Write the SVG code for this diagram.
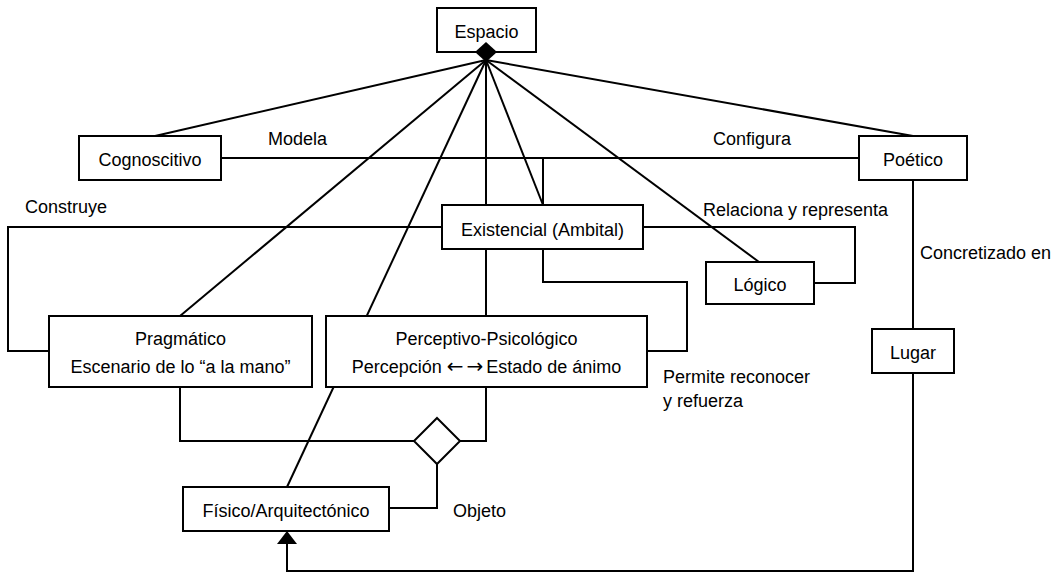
<svg xmlns="http://www.w3.org/2000/svg" width="1061" height="572" viewBox="0 0 1061 572">
  <style>
    .box { fill: #fff; stroke: #000; stroke-width: 2; }
    .ln { fill: none; stroke: #000; stroke-width: 2; }
    text { font-family: "Liberation Sans", Arial, sans-serif; font-size: 18px; fill: #000; }
    .c { text-anchor: middle; }
    .arr { font-family: "DejaVu Sans", sans-serif; font-size: 20px; letter-spacing: 3px; }
  </style>
  <rect width="1061" height="572" fill="#fff"/>
  <g id="connectors">
    <line class="ln" x1="486" y1="60" x2="155" y2="136"/>
    <line class="ln" x1="486" y1="60" x2="913" y2="136"/>
    <line class="ln" x1="486" y1="60" x2="180" y2="316"/>
    <line class="ln" x1="486" y1="60" x2="287" y2="487"/>
    <line class="ln" x1="486" y1="60" x2="486" y2="205"/>
    <line class="ln" x1="486" y1="60" x2="543" y2="205"/>
    <line class="ln" x1="486" y1="60" x2="759" y2="262"/>
    <path class="ln" d="M221,158 H859"/>
    <path class="ln" d="M543,158 V205"/>
    <path class="ln" d="M442,227 H8 V351 H49"/>
    <path class="ln" d="M643,227 H855 V283 H814"/>
    <path class="ln" d="M486,249 V316"/>
    <path class="ln" d="M543,249 V282 H687 V351 H647"/>
    <path class="ln" d="M180,387 V441 H414"/>
    <path class="ln" d="M460,441 H486 V387"/>
    <polygon class="ln" points="437,418 460,441 437,464 414,441" fill="#fff"/>
    <path class="ln" d="M437,464 V508 H389"/>
    <path class="ln" d="M913,180 V329"/>
    <path class="ln" d="M913,373 V571 H287 V543"/>
    <polygon points="287,531 277,544 297,544" fill="#000"/>
  </g>
  <g id="labels">
    <text x="268" y="145">Modela</text>
    <text x="713" y="145">Configura</text>
    <text x="25" y="213">Construye</text>
    <text x="703" y="216">Relaciona y representa</text>
    <text x="920" y="259">Concretizado en</text>
    <text x="663" y="383">Permite reconocer</text>
    <text x="663" y="407">y refuerza</text>
    <text x="453" y="517">Objeto</text>
  </g>
  <g id="espacio">
    <rect class="box" x="437" y="8" width="99" height="44"/>
    <text class="c" x="486.5" y="38">Espacio</text>
  </g>
  <g id="cognoscitivo">
    <rect class="box" x="79" y="136" width="142" height="44"/>
    <text class="c" x="150" y="166">Cognoscitivo</text>
  </g>
  <g id="poetico">
    <rect class="box" x="859" y="136" width="108" height="44"/>
    <text class="c" x="913" y="166">Poético</text>
  </g>
  <g id="existencial">
    <rect class="box" x="442" y="205" width="201" height="44"/>
    <text class="c" x="542.5" y="236">Existencial (Ambital)</text>
  </g>
  <g id="logico">
    <rect class="box" x="706" y="262" width="108" height="42"/>
    <text class="c" x="760" y="291">Lógico</text>
  </g>
  <g id="pragmatico">
    <rect class="box" x="49" y="316" width="263" height="71"/>
    <text class="c" x="180.5" y="345">Pragmático</text>
    <text class="c" x="180.5" y="373">Escenario de lo “a la mano”</text>
  </g>
  <g id="perceptivo">
    <rect class="box" x="326" y="316" width="321" height="71"/>
    <text class="c" x="486.5" y="345">Perceptivo-Psicológico</text>
    <text class="c" x="486.5" y="373">Percepción <tspan class="arr">←→</tspan>Estado de ánimo</text>
  </g>
  <g id="lugar">
    <rect class="box" x="872" y="329" width="82" height="44"/>
    <text class="c" x="913" y="359">Lugar</text>
  </g>
  <g id="fisico">
    <rect class="box" x="183" y="487" width="206" height="44"/>
    <text class="c" x="286" y="517">Físico/Arquitectónico</text>
  </g>
  <g id="connector-ends">
    <polygon points="486,42 497,52 486,62 475,52" fill="#000"/>
  </g>
</svg>
